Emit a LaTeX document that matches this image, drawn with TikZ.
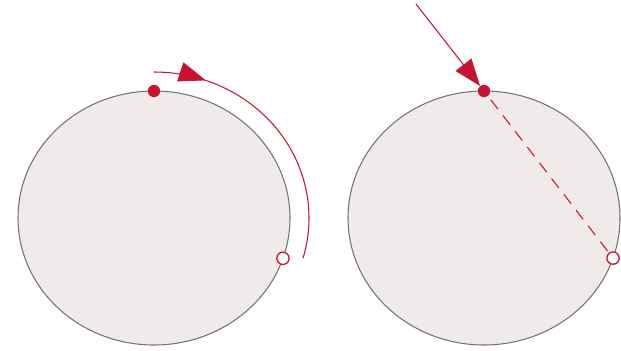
\documentclass[tikz,border=0pt]{standalone}
\usepackage{tikz}
\usetikzlibrary{arrows.meta, calc, decorations.markings}
\usepackage{xcolor}
\definecolor{signal}{RGB}{200,18,48}
\definecolor{disc}{RGB}{240,234,234}
\definecolor{rim}{RGB}{115,115,115}

\begin{document}
\begin{tikzpicture}[
    x=0.03cm, y=0.03cm,
    body/.style={draw=rim, fill=disc, line width=0.9pt},
    dot/.style={circle, fill=signal, inner sep=0pt, minimum size=10.5pt},
    hollow/.style={circle, draw=signal, fill=white, line width=1.1pt, inner sep=0pt, minimum size=10.5pt},
    arrow/.style={-{Triangle[length=23pt, width=17pt]}, signal, line width=0.9pt},
    motion/.style={signal, line width=0.9pt, postaction={decorate},
        decoration={markings, mark=at position 0.19 with {\arrow{Triangle[length=23pt, width=17pt]}}}},
    chord/.style={signal, line width=0.9pt, dash pattern=on 10pt off 7pt, dash phase=-4pt},
]
\useasboundingbox (0,0) rectangle (621,350);

% Left disc
\coordinate (c1) at (154,132);
\draw[body] (c1) ellipse [x radius=136, y radius=127];
\node[dot] (top1) at ($(c1)+(90:136 and 127)$) {};
\node[hollow] (exit1) at ($(c1)+(-18.5:136 and 127)$) {};

% Path along the rim
\draw[motion] ($(c1)+(90:155 and 146)$) arc[start angle=90, end angle=-16, x radius=155, y radius=146];

% Right disc
\coordinate (c2) at (484,132);
\draw[body] (c2) ellipse [x radius=136, y radius=127];
\node[dot] (top2) at ($(c2)+(90:136 and 127)$) {};
\node[hollow] (exit2) at ($(c2)+(-18.4:136 and 127)$) {};

% Incoming ray and chord
\coordinate (src) at (416,346);
\draw[arrow] (src) -- (top2);
\draw[chord] (top2) -- (exit2);

\end{tikzpicture}
\end{document}
